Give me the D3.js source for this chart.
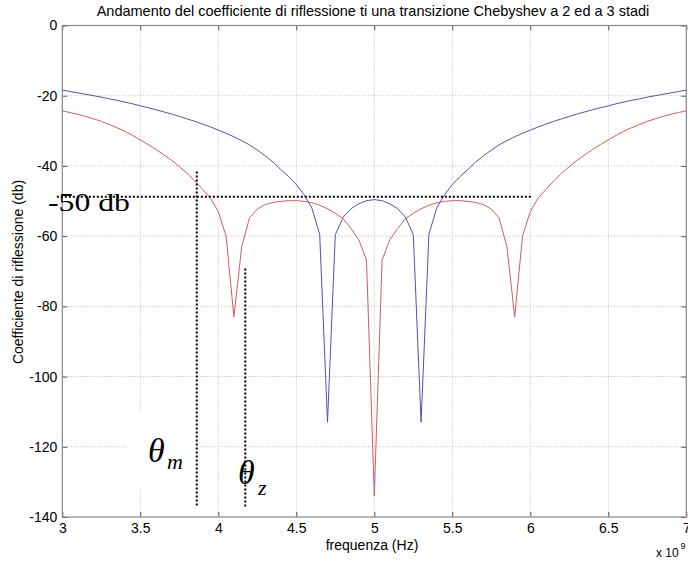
<!DOCTYPE html>
<html>
<head>
<meta charset="utf-8">
<script src="https://cdn.jsdelivr.net/npm/d3@7/dist/d3.min.js"></script>
<style>
body{margin:0;background:#fff}
svg{display:block;font-family:"Liberation Sans",Arial,sans-serif}
</style>
</head>
<body>
<svg id="chart" width="688" height="565"></svg>
<script>
// frequency samples (x 10^9 Hz)
let freq=[3.00,3.05,3.10,3.15,3.20,3.25,3.30,3.35,3.40,3.45,3.50,3.55,3.60,3.65,3.70,3.75,3.80,3.85,3.90,3.95,
  4.00,4.05,4.10,4.15,4.20,4.25,4.30,4.35,4.40,4.45,4.50,4.55,4.60,4.65,4.70,4.75,4.80,4.85,4.90,4.95,
  5.00,5.05,5.10,5.15,5.20,5.25,5.30,5.35,5.40,5.45,5.50,5.55,5.60,5.65,5.70,5.75,5.80,5.85,5.90,5.95,
  6.00,6.05,6.10,6.15,6.20,6.25,6.30,6.35,6.40,6.45,6.50,6.55,6.60,6.65,6.70,6.75,6.80,6.85,6.90,6.95,7.00]

// 2 stadi (blu)
let twoStage=[-18.4,-18.8,-19.2,-19.6,-20.0,-20.4,-20.9,-21.3,-21.8,-22.3,-22.9,-23.4,-24.0,-24.6,-25.2,-25.9,-26.6,-27.3,-28.1,-28.9,
  -29.8,-30.7,-31.7,-32.8,-34.0,-35.5,-37.1,-38.9,-41.0,-43.0,-45.3,-48.2,-52.0,-59.5,-113.0,-59.6,-54.6,-52.2,-50.8,-49.9,
  -49.6,-49.9,-50.8,-52.2,-54.6,-59.6,-113.0,-59.5,-52.0,-48.2,-45.3,-43.0,-41.0,-38.9,-37.1,-35.5,-34.0,-32.8,-31.7,-30.7,
  -29.8,-28.9,-28.1,-27.3,-26.6,-25.9,-25.2,-24.6,-24.0,-23.4,-22.9,-22.3,-21.8,-21.3,-20.9,-20.4,-20.0,-19.6,-19.2,-18.8,-18.4]

// 3 stadi (rosso)
let threeStage=[-24.3,-24.8,-25.3,-25.9,-26.6,-27.3,-28.2,-29.1,-30.1,-31.3,-32.6,-33.9,-35.3,-36.8,-38.4,-40.2,-42.1,-44.3,-46.7,-49.2,
  -53.0,-60.0,-83.0,-63.0,-54.8,-52.3,-51.0,-50.4,-50.1,-49.9,-49.9,-50.1,-50.5,-51.2,-52.2,-53.5,-55.0,-57.8,-61.0,-66.8,
  -134.0,-66.8,-61.0,-57.8,-55.0,-53.5,-52.2,-51.2,-50.5,-50.1,-49.9,-49.9,-50.1,-50.4,-51.0,-52.3,-54.8,-63.0,-83.0,-60.0,
  -53.0,-49.2,-46.7,-44.3,-42.1,-40.2,-38.4,-36.8,-35.3,-33.9,-32.6,-31.3,-30.1,-29.1,-28.2,-27.3,-26.6,-25.9,-25.3,-24.8,-24.3]

let xTicks=[3,3.5,4,4.5,5,5.5,6,6.5,7]
let xTickLabels=["3","3.5","4","4.5","5","5.5","6","6.5","7"]
let yTicks=[-140,-120,-100,-80,-60,-40,-20,0]

// annotations: -50 db line, theta_m and theta_z markers
let levelLine={f0:2.965,f1:6.01,db:-48.8}
let thetaM={f:3.862,top:-41.6,bottom:-137.2}
let thetaZ={f:4.173,top:-69.2,bottom:-137.2}

let svg=d3.select("#chart")
let x=d3.scaleLinear().domain([3,7]).range([62.3,686.3])
let y=d3.scaleLinear().domain([-140,0]).range([517,25.5])

// grid
svg.append("g").selectAll("line")
  .data(xTicks.slice(1,-1))
  .enter().append("line")
  .attr("x1",d=>x(d)).attr("x2",d=>x(d))
  .attr("y1",y(0)).attr("y2",y(-140))
  .attr("stroke","#b4b4b4").attr("stroke-dasharray","1,2")
svg.append("g").selectAll("line")
  .data(yTicks.slice(1,-1))
  .enter().append("line")
  .attr("x1",x(3)).attr("x2",x(7))
  .attr("y1",d=>y(d)).attr("y2",d=>y(d))
  .attr("stroke","#b4b4b4").attr("stroke-dasharray","1,2")

// white box behind theta_m
svg.append("rect").attr("x",126).attr("y",412).attr("width",70).attr("height",74).attr("fill","#fff")

// axes (ticks inside, MATLAB box)
let axB=svg.append("g").attr("transform","translate(0,"+y(-140)+")")
  .call(d3.axisBottom(x).tickValues(xTicks).tickFormat((d,i)=>xTickLabels[i]).tickSize(-5).tickPadding(6).tickSizeOuter(0))
let axT=svg.append("g").attr("transform","translate(0,"+y(0)+")")
  .call(d3.axisTop(x).tickValues(xTicks).tickFormat("").tickSize(-5).tickSizeOuter(0))
let axL=svg.append("g").attr("transform","translate("+x(3)+",0)")
  .call(d3.axisLeft(y).tickValues(yTicks).tickFormat(d=>String(d)).tickSize(-5).tickPadding(5).tickSizeOuter(0))
let axR=svg.append("g").attr("transform","translate("+x(7)+",0)")
  .call(d3.axisRight(y).tickValues(yTicks).tickFormat("").tickSize(-5).tickSizeOuter(0))
;[axB,axT,axL,axR].forEach(a=>{
  a.select(".domain").remove()
  a.selectAll(".tick line").attr("stroke","#555")
  a.selectAll("text").attr("fill","#000").style("font-size","14px").style("font-family","'Liberation Sans',Arial,sans-serif")
})
svg.append("rect")
  .attr("x",x(3)).attr("y",y(0))
  .attr("width",x(7)-x(3)).attr("height",y(-140)-y(0))
  .attr("fill","none").attr("stroke","#888").attr("stroke-width",1.2)

// curves
let pts=(vals)=>freq.map((f,i)=>({f:f,v:vals[i]}))
let line=d3.line().x(d=>x(d.f)).y(d=>y(d.v))
svg.append("path").datum(pts(twoStage)).attr("d",line)
  .attr("fill","none").attr("stroke","#5252ac").attr("stroke-width",1)
svg.append("path").datum(pts(threeStage)).attr("d",line)
  .attr("fill","none").attr("stroke","#d25c5c").attr("stroke-width",1)

// dotted annotation lines
svg.append("line")
  .attr("x1",x(levelLine.f0)).attr("x2",x(levelLine.f1))
  .attr("y1",y(levelLine.db)).attr("y2",y(levelLine.db))
  .attr("stroke","#000").attr("stroke-width",2).attr("stroke-dasharray","2,2")
;[thetaM,thetaZ].forEach(t=>{
  svg.append("line")
    .attr("x1",x(t.f)).attr("x2",x(t.f))
    .attr("y1",y(t.top)).attr("y2",y(t.bottom))
    .attr("stroke","#000").attr("stroke-width",2).attr("stroke-dasharray","2,2")
})

// texts
svg.append("text").attr("x",373).attr("y",16).attr("text-anchor","middle")
  .style("font-size","14.5px").text("Andamento del coefficiente di riflessione ti una transizione Chebyshev a 2 ed a 3 stadi")
svg.append("text").attr("x",372).attr("y",550).attr("text-anchor","middle")
  .style("font-size","14px").text("frequenza (Hz)")
svg.append("text").attr("transform","translate(23,272) rotate(-90)").attr("text-anchor","middle")
  .style("font-size","14px").text("Coefficiente di riflessione (db)")
svg.append("text").attr("x",656).attr("y",557).style("font-size","12px").text("x 10")
svg.append("text").attr("x",680.5).attr("y",549).style("font-size","9px").text("9")

let serif="'Liberation Serif','Times New Roman',serif"
svg.append("text").attr("x",48).attr("y",211)
  .attr("textLength",82).attr("lengthAdjust","spacingAndGlyphs")
  .style("font-family",serif).style("font-size","25px").text("-50 db")
let th=(xp,yp,sub,sx,sy)=>{
  svg.append("text").attr("x",xp).attr("y",yp).style("font-family",serif)
    .style("font-style","italic").style("font-size","34px").text("θ")
  svg.append("text").attr("x",sx).attr("y",sy).style("font-family",serif)
    .style("font-style","italic").style("font-size","22px").text(sub)
}
th(148,462,"m",167,469)
th(238,484,"z",258,495)
</script>
</body>
</html>
